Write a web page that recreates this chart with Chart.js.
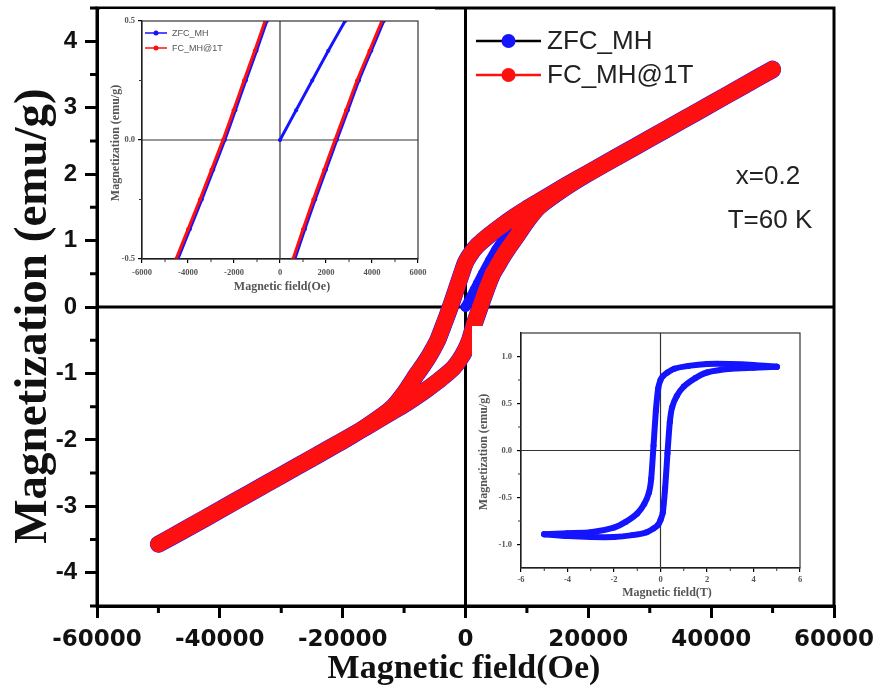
<!DOCTYPE html>
<html>
<head>
<meta charset="utf-8">
<script src="https://cdn.jsdelivr.net/npm/chart.js@4.4.1/dist/chart.umd.min.js"></script>
<style>
  body { margin: 0; background: #fff; }
  #wrap { position: relative; width: 877px; height: 697px; }
  canvas { position: absolute; background: #fff; }
</style>
</head>
<body>
<div id="wrap">
  <canvas id="main" width="877" height="697" style="left:0;top:0"></canvas>
  <canvas id="inset-oe" width="335" height="294" style="left:100px;top:9px"></canvas>
  <canvas id="inset-t" width="336" height="278" style="left:472px;top:326px"></canvas>
</div>
<script>
// M-H loop at 60 K, field in Oe, magnetization in emu/g
const fieldDown = [50000, 45000, 40000, 35000, 30000, 25000, 20000, 16000, 12000, 10000, 8000, 6000, 4000, 2000, 1000, 0,
  -650, -1565, -2480, -3480, -4520, -5200, -6000, -7000, -8000, -10000, -12000, -16000, -20000, -25000, -30000, -35000, -40000, -45000, -50000];
const magDown = [3.58, 3.32, 3.06, 2.80, 2.54, 2.28, 2.02, 1.81, 1.59, 1.48, 1.36, 1.23, 1.09, 0.93, 0.82, 0.67,
  0.50, 0.25, 0.0, -0.25, -0.50, -0.62, -0.75, -0.89, -1.02, -1.30, -1.52, -1.79, -2.02, -2.28, -2.54, -2.80, -3.06, -3.32, -3.57];
const fieldUp = [-50000, -45000, -40000, -35000, -30000, -25000, -20000, -16000, -12000, -10000, -8000, -6000, -4000, -2000, -1000, 0,
  650, 1450, 2390, 3350, 4430, 5200, 6000, 7000, 8000, 10000, 12000, 16000, 20000, 25000, 30000, 35000, 40000, 45000, 50000];
const magUp = [-3.57, -3.31, -3.05, -2.79, -2.53, -2.27, -2.01, -1.80, -1.58, -1.47, -1.35, -1.22, -1.08, -0.92, -0.80, -0.64,
  -0.50, -0.25, 0.0, 0.25, 0.50, 0.62, 0.75, 0.89, 1.02, 1.29, 1.51, 1.78, 2.01, 2.27, 2.53, 2.79, 3.05, 3.31, 3.57];
// ZFC virgin curve
const virginField = [0, 500, 1000, 1500, 2000, 2830, 4000, 5000, 6000, 8000, 10000, 15000, 20000, 30000, 40000, 50000];
const virginMag = [0, 0.08, 0.17, 0.26, 0.35, 0.50, 0.70, 0.86, 1.00, 1.22, 1.40, 1.74, 2.00, 2.52, 3.04, 3.56];

const xTicks = [-60000, -40000, -20000, 0, 20000, 40000, 60000];
const yTicks = [-4, -3, -2, -1, 0, 1, 2, 3, 4];

// low-field zoom (Oe)
const zoomFcDownField = [-650, -1100, -1565, -2020, -2480, -2980, -3480, -4000, -4520];
const zoomFcUpField = [565, 1000, 1450, 1920, 2390, 2870, 3350, 3890, 4430];
const zoomZfcDownField = [-570, -1020, -1485, -1940, -2400, -2900, -3400, -3920, -4440];
const zoomZfcUpField = [645, 1080, 1530, 2000, 2470, 2950, 3430, 3970, 4510];
const zoomMagDown = [0.5, 0.375, 0.25, 0.125, 0, -0.125, -0.25, -0.375, -0.5];
const zoomMagUp = [-0.5, -0.375, -0.25, -0.125, 0, 0.125, 0.25, 0.375, 0.5];
const zoomVirginField = [0, 700, 1400, 2100, 2830];
const zoomVirginMag = [0, 0.125, 0.25, 0.375, 0.5];
const zoomXTicks = [-6000, -4000, -2000, 0, 2000, 4000, 6000];
const zoomYTicks = [-0.5, 0, 0.5];

// loop in tesla
const teslaDown = [5, 4, 3, 2, 1.2, 0.6, 0.3, 0.1, 0, -0.1, -0.2, -0.3, -0.4, -0.5, -0.7, -1.0, -1.5, -2, -3, -4, -5];
const teslaMagDown = [0.89, 0.91, 0.92, 0.92, 0.90, 0.87, 0.83, 0.79, 0.75, 0.66, 0.42, 0.05, -0.30, -0.45, -0.57, -0.67, -0.76, -0.82, -0.87, -0.88, -0.89];
const teslaUp = [-5, -4, -3, -2, -1.2, -0.6, -0.3, -0.1, 0, 0.1, 0.2, 0.3, 0.4, 0.5, 0.7, 1.0, 1.5, 2, 3, 4, 5];
const teslaMagUp = [-0.89, -0.91, -0.92, -0.92, -0.90, -0.87, -0.83, -0.79, -0.74, -0.66, -0.40, -0.03, 0.30, 0.46, 0.58, 0.68, 0.77, 0.83, 0.87, 0.88, 0.89];
const teslaXTicks = [-6, -4, -2, 0, 2, 4, 6];
const teslaYTicks = [-1, -0.5, 0, 0.5, 1];

const RED = '#ff1010';
const BLUE = '#1414ff';

function pts(xs, ys) {
  return xs.map((x, i) => ({ x: x, y: ys[i] }));
}

function range(a, b, step) {
  const out = [];
  for (let v = a; v <= b + 1e-9; v += step) out.push(+v.toFixed(4));
  return out;
}

// box, zero lines, minor ticks, titles, legend and notes
function deco(cfg) {
  return {
    id: 'deco',
    beforeDatasetsDraw(chart) {
      const { ctx, chartArea: a, scales: { x, y } } = chart;
      ctx.save();
      ctx.strokeStyle = cfg.color;
      ctx.lineWidth = cfg.zeroWidth;
      const x0 = x.getPixelForValue(0), y0 = y.getPixelForValue(0);
      ctx.beginPath();
      ctx.moveTo(x0, a.top); ctx.lineTo(x0, a.bottom);
      ctx.moveTo(a.left, y0); ctx.lineTo(a.right, y0);
      ctx.stroke();
      ctx.restore();
    },
    afterDraw(chart) {
      const { ctx, chartArea: a, scales: { x, y } } = chart;
      ctx.save();
      ctx.strokeStyle = cfg.color;
      ctx.lineWidth = cfg.boxWidth;
      ctx.strokeRect(a.left, a.top, a.right - a.left, a.bottom - a.top);
      ctx.lineWidth = cfg.minorWidth;
      ctx.beginPath();
      cfg.minorX.forEach(v => {
        const px = x.getPixelForValue(v);
        ctx.moveTo(px, a.bottom); ctx.lineTo(px, a.bottom + cfg.minorLen);
      });
      cfg.minorY.forEach(v => {
        const py = y.getPixelForValue(v);
        ctx.moveTo(a.left, py); ctx.lineTo(a.left - cfg.minorLen, py);
      });
      ctx.stroke();

      ctx.fillStyle = cfg.textColor;
      ctx.textAlign = 'center';
      ctx.textBaseline = 'alphabetic';
      ctx.font = cfg.xTitle.font;
      ctx.fillText(cfg.xTitle.text, cfg.xTitle.x, cfg.xTitle.y);
      ctx.save();
      ctx.translate(cfg.yTitle.x, cfg.yTitle.y);
      ctx.rotate(-Math.PI / 2);
      ctx.font = cfg.yTitle.font;
      ctx.fillText(cfg.yTitle.text, 0, 0);
      ctx.restore();

      const lg = cfg.legend;
      lg.items.forEach(it => {
        ctx.strokeStyle = it.line;
        ctx.lineWidth = lg.lineWidth;
        ctx.beginPath();
        ctx.moveTo(lg.x1, it.y); ctx.lineTo(lg.x2, it.y);
        ctx.stroke();
        ctx.fillStyle = it.color;
        ctx.beginPath();
        ctx.arc((lg.x1 + lg.x2) / 2, it.y, lg.r, 0, Math.PI * 2);
        ctx.fill();
        ctx.fillStyle = lg.textColor;
        ctx.font = lg.font;
        ctx.textAlign = 'left';
        ctx.textBaseline = 'middle';
        ctx.fillText(it.text, lg.textX, it.y + 1);
      });

      (cfg.notes || []).forEach(n => {
        ctx.fillStyle = cfg.noteColor;
        ctx.font = cfg.noteFont;
        ctx.textAlign = 'center';
        ctx.textBaseline = 'middle';
        ctx.fillText(n.text, n.x, n.y);
      });
      ctx.restore();
    }
  };
}

function lineSet(data, color, width, radius) {
  return {
    data: data,
    showLine: true,
    borderColor: color,
    backgroundColor: color,
    borderWidth: width,
    pointRadius: radius,
    pointBorderWidth: 0,
    pointHoverRadius: radius,
    tension: 0.2,
    borderJoinStyle: 'round',
    borderCapStyle: 'round'
  };
}

// fixed axis box; label overhang must not shrink the plot area
function axis(min, max, ticks, fmt, font, color, tickLen, pad, lineW, size) {
  return {
    type: 'linear',
    min: min,
    max: max,
    afterBuildTicks: s => { s.ticks = ticks.map(v => ({ value: v })); },
    afterFit: s => {
      if (s.isHorizontal()) { s.height = size; s.paddingLeft = 0; s.paddingRight = 0; }
      else { s.width = size; s.paddingTop = 0; s.paddingBottom = 0; }
    },
    ticks: { callback: fmt, font: font, color: color, padding: pad, maxRotation: 0, autoSkip: false },
    grid: { drawOnChartArea: false, color: '#000', lineWidth: lineW, tickLength: tickLen },
    border: { color: '#000', width: lineW }
  };
}

const base = {
  responsive: false,
  animation: false,
  devicePixelRatio: 1,
  events: [],
  plugins: { legend: { display: false }, tooltip: { enabled: false } }
};

// main loop
new Chart(document.getElementById('main'), {
  type: 'scatter',
  data: {
    datasets: [
      lineSet(pts(fieldDown, magDown).concat(pts(fieldUp, magUp)), RED, 16, 8),
      lineSet(pts(virginField, virginMag), BLUE, 10, 5),
      lineSet(pts(fieldDown, magDown).concat(pts(fieldUp, magUp)), BLUE, 17, 8)
    ]
  },
  options: Object.assign({}, base, {
    layout: { padding: { left: 0, right: 43, top: 7, bottom: 0 } },
    scales: {
      x: axis(-60000, 60000, xTicks, v => String(v),
        { family: 'DejaVu Sans', size: 23, weight: 'bold' }, '#111', 12, 8, 3, 91),
      y: axis(-4.5, 4.5, yTicks, v => String(v),
        { family: 'Liberation Sans', size: 24, weight: 'bold' }, '#111', 12, 8, 3, 97)
    }
  }),
  plugins: [deco({
    color: '#000', zeroWidth: 3, boxWidth: 3, minorWidth: 3, minorLen: 7,
    minorX: [-50000, -30000, -10000, 10000, 30000, 50000],
    minorY: range(-4.5, 4.5, 1),
    textColor: '#111',
    xTitle: { text: 'Magnetic field(Oe)', font: 'bold 34px "Liberation Serif"', x: 464, y: 678 },
    yTitle: { text: 'Magnetization (emu/g)', font: 'bold 47px "Liberation Serif"', x: 46, y: 316 },
    legend: {
      x1: 476, x2: 541, r: 7, lineWidth: 2.5, textX: 547,
      font: '26px "Liberation Sans"', textColor: '#222',
      items: [
        { text: 'ZFC_MH', line: '#000', color: BLUE, y: 41 },
        { text: 'FC_MH@1T', line: RED, color: RED, y: 75 }
      ]
    },
    noteFont: '26px "Liberation Sans"', noteColor: '#222',
    notes: [
      { text: 'x=0.2', x: 768, y: 177 },
      { text: 'T=60 K', x: 770, y: 221 }
    ]
  })]
});

// low-field zoom in Oe
const smallAxisFont = { family: 'Liberation Serif', size: 8.5, weight: 'bold' };
new Chart(document.getElementById('inset-oe'), {
  type: 'scatter',
  data: {
    datasets: [
      lineSet(pts(zoomFcDownField, zoomMagDown), RED, 3, 2),
      lineSet(pts(zoomFcUpField, zoomMagUp), RED, 3, 2),
      lineSet(pts(zoomZfcDownField, zoomMagDown), BLUE, 3, 2),
      lineSet(pts(zoomZfcUpField, zoomMagUp), BLUE, 3, 2),
      lineSet(pts(zoomVirginField, zoomVirginMag), BLUE, 3, 2)
    ]
  },
  options: Object.assign({}, base, {
    layout: { padding: { left: 0, right: 17, top: 12, bottom: 0 } },
    scales: {
      x: axis(-6000, 6000, zoomXTicks, v => String(v), smallAxisFont, '#555', 4, 5, 1.2, 44),
      y: axis(-0.5, 0.5, zoomYTicks, v => v.toFixed(1), smallAxisFont, '#555', 4, 3, 1.2, 42)
    }
  }),
  plugins: [deco({
    color: '#333', zeroWidth: 1.2, boxWidth: 1.2, minorWidth: 1, minorLen: 3,
    minorX: [-5000, -3000, -1000, 1000, 3000, 5000],
    minorY: [-0.25, 0.25],
    textColor: '#555',
    xTitle: { text: 'Magnetic field(Oe)', font: 'bold 12px "Liberation Serif"', x: 182, y: 281 },
    yTitle: { text: 'Magnetization (emu/g)', font: 'bold 12px "Liberation Serif"', x: 19, y: 134 },
    legend: {
      x1: 45, x2: 67, r: 2.5, lineWidth: 1.5, textX: 72,
      font: '9px "Liberation Sans"', textColor: '#555',
      items: [
        { text: 'ZFC_MH', line: BLUE, color: BLUE, y: 24 },
        { text: 'FC_MH@1T', line: RED, color: RED, y: 39 }
      ]
    }
  })]
});

// full loop in tesla
new Chart(document.getElementById('inset-t'), {
  type: 'scatter',
  data: {
    datasets: [
      lineSet(pts(teslaDown, teslaMagDown), BLUE, 6, 3),
      lineSet(pts(teslaUp, teslaMagUp), BLUE, 6, 3)
    ]
  },
  options: Object.assign({}, base, {
    layout: { padding: { left: 0, right: 8, top: 7, bottom: 0 } },
    scales: {
      x: axis(-6, 6, teslaXTicks, v => String(v), smallAxisFont, '#555', 4, 3, 1.2, 36),
      y: axis(-1.25, 1.25, teslaYTicks, v => v.toFixed(1), smallAxisFont, '#555', 4, 5, 1.2, 49)
    }
  }),
  plugins: [deco({
    color: '#333', zeroWidth: 1.2, boxWidth: 1.2, minorWidth: 1, minorLen: 3,
    minorX: [-5, -3, -1, 1, 3, 5],
    minorY: [-0.75, -0.25, 0.25, 0.75],
    textColor: '#555',
    xTitle: { text: 'Magnetic field(T)', font: 'bold 12px "Liberation Serif"', x: 195, y: 270 },
    yTitle: { text: 'Magnetization (emu/g)', font: 'bold 12px "Liberation Serif"', x: 15, y: 126 },
    legend: { x1: 0, x2: 0, r: 0, lineWidth: 0, textX: 0, font: '9px sans-serif', textColor: '#555', items: [] }
  })]
});
</script>
</body>
</html>
